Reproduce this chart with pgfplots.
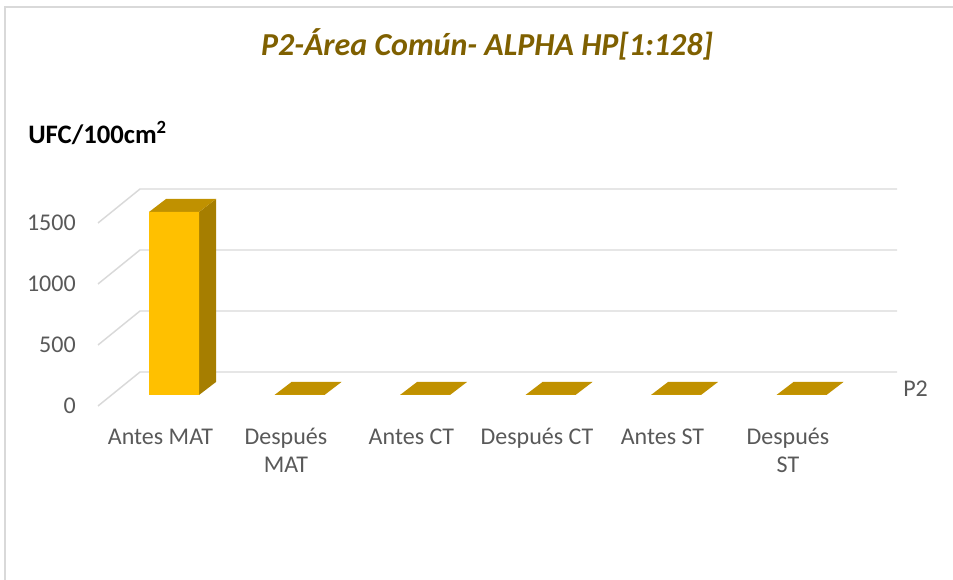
\documentclass[border=0pt]{standalone}
\usepackage{fontspec}
\setmainfont{Carlito}
\usepackage{pgfplots}
\pgfplotsset{compat=1.18}
\definecolor{barfront}{RGB}{255,192,0}
\definecolor{barside}{RGB}{166,126,0}
\definecolor{bartop}{RGB}{192,145,0}
\definecolor{gridc}{RGB}{217,217,217}
\definecolor{titlec}{RGB}{127,96,0}
\definecolor{tickc}{RGB}{89,89,89}
\begin{document}
\begin{tikzpicture}
\useasboundingbox (-130.5pt,-138.75pt) rectangle (584.25pt,296.25pt);
\draw[gridc, line width=1.5pt] (-126.75pt,-138.75pt) -- (-126.75pt,291pt) -- (584.25pt,291pt);
\begin{axis}[
  at={(-57pt,-8.25pt)}, anchor=south west,
  x=94.125pt, y=0.0915pt,
  xmin=-0.6056, xmax=5.761, ymin=-90.2, ymax=1688.5,
  enlargelimits=false, clip=false,
  axis x line*=bottom, axis y line*=left,
  axis line style={draw=none}, major tick length=0pt,
  xtick={-0.108,0.892,1.892,2.892,3.892,4.892},
  xticklabels={\strut Antes MAT,{\strut Después\\\strut MAT},\strut Antes CT,\strut Después CT,\strut Antes ST,{\strut Después\\\strut ST}},
  ytick={-90.2,409.8,909.8,1409.8},
  yticklabels={0,500,1000,1500},
  xticklabel style={anchor=north, inner sep=0pt, align=center, yshift=-13.8pt,
    font=\fontsize{18}{21}\selectfont, text=tickc},
  yticklabel style={anchor=east, inner sep=0pt, xshift=-16.5pt,
    font=\fontsize{18}{22}\selectfont, text=tickc},
]
% gridlines (back wall + oblique side)
\addplot[gridc, line width=1.1pt] coordinates {(-0.6056,-90.2) (-0.2709,188.5) (5.761,188.5)};
\addplot[gridc, line width=1.1pt] coordinates {(-0.6056,409.8) (-0.2709,688.5) (5.761,688.5)};
\addplot[gridc, line width=1.1pt] coordinates {(-0.6056,909.8) (-0.2709,1188.5) (5.761,1188.5)};
\addplot[gridc, line width=1.1pt] coordinates {(-0.6056,1409.8) (-0.2709,1688.5) (5.761,1688.5)};
% bar 1 (Antes MAT = 1500): side and top faces
\addplot[fill=barside, draw=none] coordinates {(0.1992,0) (0.3347,106.6) (0.3347,1606.6) (0.1992,1500)} -- cycle;
\addplot[fill=bartop, draw=none] coordinates {(-0.1992,1500) (0.1992,1500) (0.3347,1606.6) (-0.0637,1606.6)} -- cycle;
% zero-height bars: top faces only
\addplot[fill=bartop, draw=none] coordinates {(0.8008,0) (1.1992,0) (1.3347,106.6) (0.9363,106.6)} -- cycle;
\addplot[fill=bartop, draw=none] coordinates {(1.8008,0) (2.1992,0) (2.3347,106.6) (1.9363,106.6)} -- cycle;
\addplot[fill=bartop, draw=none] coordinates {(2.8008,0) (3.1992,0) (3.3347,106.6) (2.9363,106.6)} -- cycle;
\addplot[fill=bartop, draw=none] coordinates {(3.8008,0) (4.1992,0) (4.3347,106.6) (3.9363,106.6)} -- cycle;
\addplot[fill=bartop, draw=none] coordinates {(4.8008,0) (5.1992,0) (5.3347,106.6) (4.9363,106.6)} -- cycle;
% front faces
\addplot[ybar, bar width=37.5pt, fill=barfront, draw=none] coordinates {(0,1500) (1,0) (2,0) (3,0) (4,0) (5,0)};
\end{axis}
\node[anchor=base, text=titlec, font=\fontsize{24}{28}\selectfont\bfseries\itshape] at (234.75pt,254.5pt) {P2-Área Común- ALPHA HP[1:128]};
\node[anchor=base west, inner sep=0pt, font=\fontsize{20}{24}\selectfont\bfseries] at (-109.5pt,188.25pt) {UFC/100cm\textsuperscript{2}};
\node[anchor=base west, inner sep=0pt, text=tickc, font=\fontsize{18}{22}\selectfont] at (546.75pt,-1.25pt) {P2};
\end{tikzpicture}
\end{document}
